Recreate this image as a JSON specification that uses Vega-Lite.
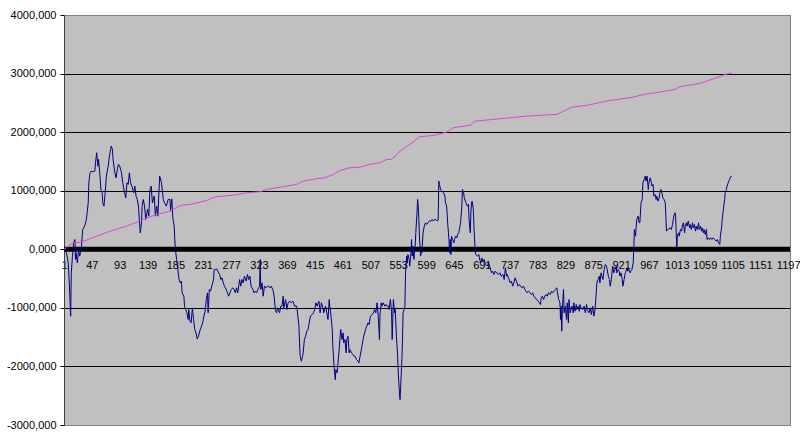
{
  "$schema": "https://vega.github.io/schema/vega-lite/v6.json",
  "width": 726,
  "height": 410,
  "autosize": {"type": "none"},
  "padding": {"left": 64, "top": 15, "right": 10, "bottom": 16},
  "background": "#ffffff",
  "config": {
    "view": {"fill": "#C0C0C0", "stroke": "#808080", "strokeWidth": 1},
    "font": "Liberation Sans"
  },
  "datasets": {
    "pnl": [
      {"step":1,"value":0},{"step":5,"value":-60},{"step":8,"value":-232},{"step":10,"value":-630},{"step":12,"value":-1143},{"step":13,"value":-402},{"step":15,"value":-117},{"step":17,"value":110},{"step":19,"value":167},{"step":20,"value":-174},{"step":21,"value":-60},{"step":23,"value":-232},{"step":25,"value":-3},{"step":27,"value":-117},{"step":30,"value":54},{"step":31,"value":224},{"step":32,"value":338},{"step":35,"value":395},{"step":38,"value":509},{"step":41,"value":794},{"step":42,"value":1135},{"step":44,"value":1306},{"step":46,"value":1335},{"step":49,"value":1323},{"step":52,"value":1335},{"step":53,"value":1477},{"step":55,"value":1648},{"step":57,"value":1420},{"step":58,"value":1534},{"step":60,"value":1306},{"step":62,"value":1021},{"step":64,"value":965},{"step":65,"value":794},{"step":67,"value":737},{"step":69,"value":965},{"step":71,"value":1249},{"step":74,"value":1420},{"step":76,"value":1591},{"step":79,"value":1762},{"step":81,"value":1705},{"step":82,"value":1534},{"step":85,"value":1306},{"step":87,"value":1221},{"step":89,"value":1363},{"step":91,"value":1449},{"step":93,"value":1420},{"step":96,"value":1306},{"step":98,"value":1135},{"step":101,"value":965},{"step":103,"value":879},{"step":105,"value":1135},{"step":107,"value":1107},{"step":109,"value":1306},{"step":111,"value":1135},{"step":113,"value":1078},{"step":116,"value":965},{"step":118,"value":1078},{"step":120,"value":908},{"step":122,"value":851},{"step":124,"value":737},{"step":125,"value":566},{"step":127,"value":281},{"step":129,"value":452},{"step":130,"value":737},{"step":132,"value":851},{"step":134,"value":737},{"step":136,"value":509},{"step":139,"value":680},{"step":141,"value":566},{"step":143,"value":1021},{"step":145,"value":1078},{"step":147,"value":794},{"step":150,"value":908},{"step":152,"value":566},{"step":154,"value":737},{"step":156,"value":566},{"step":159,"value":1249},{"step":162,"value":1135},{"step":165,"value":851},{"step":167,"value":794},{"step":170,"value":737},{"step":173,"value":851},{"step":176,"value":851},{"step":177,"value":652},{"step":179,"value":862},{"step":181,"value":509},{"step":183,"value":395},{"step":184,"value":167},{"step":185,"value":-3},{"step":187,"value":-174},{"step":189,"value":-345},{"step":191,"value":-516},{"step":193,"value":-573},{"step":195,"value":-544},{"step":196,"value":-744},{"step":199,"value":-801},{"step":200,"value":-971},{"step":202,"value":-1028},{"step":204,"value":-1085},{"step":206,"value":-1199},{"step":207,"value":-1028},{"step":209,"value":-1228},{"step":211,"value":-1256},{"step":213,"value":-1000},{"step":215,"value":-1199},{"step":217,"value":-1370},{"step":219,"value":-1427},{"step":221,"value":-1530},{"step":223,"value":-1484},{"step":226,"value":-1370},{"step":228,"value":-1313},{"step":230,"value":-1256},{"step":232,"value":-1142},{"step":234,"value":-1057},{"step":236,"value":-858},{"step":238,"value":-744},{"step":239,"value":-1085},{"step":241,"value":-687},{"step":243,"value":-715},{"step":245,"value":-630},{"step":248,"value":-516},{"step":249,"value":-345},{"step":251,"value":-345},{"step":253,"value":-334},{"step":255,"value":-374},{"step":258,"value":-430},{"step":260,"value":-516},{"step":262,"value":-487},{"step":264,"value":-573},{"step":266,"value":-630},{"step":269,"value":-687},{"step":271,"value":-744},{"step":273,"value":-801},{"step":275,"value":-744},{"step":277,"value":-687},{"step":280,"value":-658},{"step":282,"value":-687},{"step":284,"value":-744},{"step":286,"value":-658},{"step":288,"value":-744},{"step":291,"value":-516},{"step":293,"value":-630},{"step":295,"value":-516},{"step":297,"value":-573},{"step":299,"value":-459},{"step":302,"value":-544},{"step":304,"value":-430},{"step":306,"value":-516},{"step":308,"value":-459},{"step":310,"value":-630},{"step":313,"value":-687},{"step":315,"value":-744},{"step":317,"value":-715},{"step":319,"value":-744},{"step":321,"value":-687},{"step":324,"value":-630},{"step":325,"value":-174},{"step":326,"value":-687},{"step":328,"value":-573},{"step":330,"value":-801},{"step":332,"value":-630},{"step":335,"value":-658},{"step":337,"value":-630},{"step":339,"value":-630},{"step":341,"value":-658},{"step":343,"value":-630},{"step":346,"value":-687},{"step":348,"value":-801},{"step":350,"value":-1028},{"step":352,"value":-1085},{"step":354,"value":-1000},{"step":357,"value":-1085},{"step":359,"value":-971},{"step":361,"value":-971},{"step":363,"value":-801},{"step":364,"value":-1000},{"step":367,"value":-858},{"step":369,"value":-1028},{"step":371,"value":-914},{"step":374,"value":-886},{"step":376,"value":-914},{"step":379,"value":-886},{"step":382,"value":-971},{"step":385,"value":-971},{"step":386,"value":-1028},{"step":389,"value":-1313},{"step":390,"value":-1598},{"step":391,"value":-1826},{"step":393,"value":-1911},{"step":395,"value":-1826},{"step":396,"value":-1769},{"step":398,"value":-1541},{"step":400,"value":-1484},{"step":402,"value":-1399},{"step":404,"value":-1370},{"step":406,"value":-1256},{"step":408,"value":-1142},{"step":411,"value":-1114},{"step":413,"value":-1085},{"step":415,"value":-1028},{"step":417,"value":-914},{"step":419,"value":-971},{"step":422,"value":-886},{"step":424,"value":-1085},{"step":426,"value":-914},{"step":428,"value":-971},{"step":430,"value":-1085},{"step":433,"value":-971},{"step":435,"value":-1085},{"step":437,"value":-1199},{"step":439,"value":-858},{"step":440,"value":-971},{"step":442,"value":-1142},{"step":444,"value":-1370},{"step":445,"value":-1655},{"step":447,"value":-1997},{"step":449,"value":-2225},{"step":450,"value":-2054},{"step":452,"value":-2111},{"step":453,"value":-1997},{"step":455,"value":-1769},{"step":457,"value":-1484},{"step":458,"value":-1370},{"step":460,"value":-1541},{"step":462,"value":-1427},{"step":463,"value":-1598},{"step":465,"value":-1541},{"step":467,"value":-1769},{"step":468,"value":-1541},{"step":470,"value":-1484},{"step":472,"value":-1769},{"step":473,"value":-1712},{"step":476,"value":-1769},{"step":478,"value":-1797},{"step":480,"value":-1826},{"step":482,"value":-1826},{"step":484,"value":-1883},{"step":487,"value":-1911},{"step":488,"value":-1940},{"step":490,"value":-1826},{"step":492,"value":-1712},{"step":493,"value":-1655},{"step":495,"value":-1541},{"step":496,"value":-1484},{"step":499,"value":-1370},{"step":501,"value":-1313},{"step":503,"value":-1256},{"step":505,"value":-1285},{"step":507,"value":-1142},{"step":510,"value":-1114},{"step":512,"value":-1085},{"step":514,"value":-1028},{"step":516,"value":-1085},{"step":518,"value":-914},{"step":520,"value":-1142},{"step":522,"value":-1541},{"step":523,"value":-1085},{"step":525,"value":-914},{"step":526,"value":-971},{"step":528,"value":-914},{"step":531,"value":-971},{"step":533,"value":-943},{"step":535,"value":-971},{"step":537,"value":-971},{"step":538,"value":-1028},{"step":540,"value":-858},{"step":542,"value":-1057},{"step":543,"value":-1541},{"step":545,"value":-858},{"step":547,"value":-1085},{"step":548,"value":-1028},{"step":550,"value":-1484},{"step":552,"value":-1826},{"step":553,"value":-2111},{"step":555,"value":-2452},{"step":556,"value":-2566},{"step":557,"value":-2338},{"step":558,"value":-2111},{"step":559,"value":-1883},{"step":560,"value":-1541},{"step":561,"value":-1085},{"step":563,"value":-1028},{"step":564,"value":-971},{"step":565,"value":-402},{"step":566,"value":-231},{"step":567,"value":-117},{"step":568,"value":-231},{"step":569,"value":-89},{"step":571,"value":-174},{"step":572,"value":-288},{"step":574,"value":-60},{"step":575,"value":167},{"step":576,"value":-117},{"step":577,"value":54},{"step":579,"value":-174},{"step":580,"value":-3},{"step":581,"value":54},{"step":582,"value":281},{"step":584,"value":623},{"step":585,"value":851},{"step":586,"value":737},{"step":587,"value":509},{"step":588,"value":224},{"step":590,"value":-117},{"step":591,"value":-3},{"step":592,"value":-60},{"step":593,"value":110},{"step":594,"value":281},{"step":596,"value":395},{"step":598,"value":452},{"step":600,"value":424},{"step":602,"value":452},{"step":604,"value":481},{"step":607,"value":481},{"step":609,"value":509},{"step":611,"value":481},{"step":613,"value":509},{"step":615,"value":509},{"step":618,"value":481},{"step":619,"value":509},{"step":620,"value":1164},{"step":621,"value":1107},{"step":623,"value":1021},{"step":625,"value":993},{"step":628,"value":965},{"step":630,"value":908},{"step":631,"value":794},{"step":633,"value":737},{"step":635,"value":395},{"step":636,"value":281},{"step":638,"value":-60},{"step":639,"value":167},{"step":640,"value":-89},{"step":641,"value":224},{"step":643,"value":167},{"step":645,"value":110},{"step":646,"value":167},{"step":648,"value":224},{"step":650,"value":196},{"step":651,"value":253},{"step":653,"value":281},{"step":654,"value":338},{"step":656,"value":452},{"step":658,"value":737},{"step":659,"value":1021},{"step":661,"value":965},{"step":662,"value":879},{"step":664,"value":822},{"step":665,"value":794},{"step":667,"value":737},{"step":669,"value":765},{"step":670,"value":509},{"step":672,"value":281},{"step":673,"value":623},{"step":674,"value":794},{"step":675,"value":822},{"step":677,"value":680},{"step":678,"value":395},{"step":680,"value":-3},{"step":681,"value":-89},{"step":684,"value":-117},{"step":686,"value":-89},{"step":687,"value":-146},{"step":689,"value":-231},{"step":691,"value":-146},{"step":693,"value":-203},{"step":695,"value":-174},{"step":697,"value":-260},{"step":700,"value":-288},{"step":702,"value":-231},{"step":704,"value":-288},{"step":707,"value":-402},{"step":709,"value":-374},{"step":711,"value":-430},{"step":713,"value":-374},{"step":716,"value":-402},{"step":718,"value":-430},{"step":721,"value":-402},{"step":723,"value":-459},{"step":726,"value":-430},{"step":728,"value":-516},{"step":730,"value":-316},{"step":732,"value":-459},{"step":733,"value":-430},{"step":735,"value":-487},{"step":738,"value":-573},{"step":740,"value":-544},{"step":742,"value":-630},{"step":744,"value":-573},{"step":746,"value":-487},{"step":749,"value":-573},{"step":751,"value":-630},{"step":753,"value":-601},{"step":755,"value":-630},{"step":757,"value":-658},{"step":760,"value":-630},{"step":762,"value":-687},{"step":764,"value":-715},{"step":766,"value":-744},{"step":768,"value":-715},{"step":771,"value":-744},{"step":773,"value":-772},{"step":775,"value":-744},{"step":777,"value":-801},{"step":779,"value":-829},{"step":782,"value":-858},{"step":784,"value":-886},{"step":786,"value":-914},{"step":788,"value":-943},{"step":789,"value":-829},{"step":791,"value":-801},{"step":793,"value":-858},{"step":795,"value":-801},{"step":797,"value":-772},{"step":799,"value":-801},{"step":801,"value":-744},{"step":804,"value":-772},{"step":806,"value":-715},{"step":808,"value":-744},{"step":810,"value":-715},{"step":812,"value":-687},{"step":815,"value":-658},{"step":816,"value":-744},{"step":818,"value":-858},{"step":820,"value":-914},{"step":821,"value":-1199},{"step":822,"value":-971},{"step":823,"value":-1399},{"step":824,"value":-1028},{"step":825,"value":-858},{"step":826,"value":-687},{"step":827,"value":-1085},{"step":829,"value":-971},{"step":831,"value":-1199},{"step":832,"value":-914},{"step":834,"value":-1256},{"step":835,"value":-858},{"step":837,"value":-1085},{"step":838,"value":-1028},{"step":840,"value":-971},{"step":842,"value":-1085},{"step":843,"value":-914},{"step":845,"value":-1057},{"step":847,"value":-943},{"step":848,"value":-1028},{"step":850,"value":-971},{"step":852,"value":-1057},{"step":853,"value":-943},{"step":855,"value":-1000},{"step":858,"value":-1028},{"step":860,"value":-971},{"step":862,"value":-1085},{"step":864,"value":-943},{"step":865,"value":-1028},{"step":868,"value":-1085},{"step":870,"value":-1000},{"step":872,"value":-1114},{"step":874,"value":-971},{"step":876,"value":-1142},{"step":878,"value":-1028},{"step":880,"value":-744},{"step":881,"value":-573},{"step":883,"value":-516},{"step":885,"value":-459},{"step":886,"value":-573},{"step":888,"value":-402},{"step":891,"value":-516},{"step":893,"value":-345},{"step":895,"value":-260},{"step":897,"value":-288},{"step":898,"value":-345},{"step":900,"value":-459},{"step":902,"value":-516},{"step":903,"value":-630},{"step":905,"value":-516},{"step":907,"value":-288},{"step":909,"value":-402},{"step":910,"value":-374},{"step":913,"value":-288},{"step":914,"value":-402},{"step":916,"value":-345},{"step":918,"value":-374},{"step":919,"value":-459},{"step":921,"value":-402},{"step":923,"value":-516},{"step":924,"value":-630},{"step":926,"value":-516},{"step":928,"value":-402},{"step":929,"value":-374},{"step":931,"value":-316},{"step":932,"value":-374},{"step":934,"value":-345},{"step":936,"value":-402},{"step":937,"value":-374},{"step":939,"value":-345},{"step":941,"value":-231},{"step":942,"value":-3},{"step":943,"value":338},{"step":945,"value":224},{"step":946,"value":395},{"step":947,"value":509},{"step":949,"value":566},{"step":951,"value":452},{"step":952,"value":452},{"step":954,"value":794},{"step":956,"value":851},{"step":957,"value":1135},{"step":959,"value":1192},{"step":961,"value":1249},{"step":962,"value":1164},{"step":964,"value":1249},{"step":966,"value":1021},{"step":967,"value":1135},{"step":969,"value":1221},{"step":970,"value":1192},{"step":972,"value":1078},{"step":974,"value":1107},{"step":975,"value":908},{"step":977,"value":936},{"step":979,"value":851},{"step":980,"value":908},{"step":982,"value":822},{"step":984,"value":879},{"step":985,"value":965},{"step":987,"value":1021},{"step":989,"value":936},{"step":990,"value":879},{"step":992,"value":851},{"step":994,"value":794},{"step":995,"value":566},{"step":996,"value":310},{"step":998,"value":338},{"step":1000,"value":350},{"step":1002,"value":367},{"step":1004,"value":338},{"step":1006,"value":424},{"step":1008,"value":566},{"step":1010,"value":623},{"step":1011,"value":595},{"step":1013,"value":25},{"step":1014,"value":224},{"step":1016,"value":281},{"step":1017,"value":224},{"step":1019,"value":338},{"step":1021,"value":310},{"step":1022,"value":395},{"step":1024,"value":452},{"step":1026,"value":281},{"step":1027,"value":395},{"step":1029,"value":452},{"step":1030,"value":395},{"step":1032,"value":481},{"step":1034,"value":367},{"step":1035,"value":424},{"step":1037,"value":338},{"step":1039,"value":452},{"step":1040,"value":367},{"step":1042,"value":424},{"step":1044,"value":310},{"step":1045,"value":395},{"step":1047,"value":338},{"step":1049,"value":452},{"step":1050,"value":338},{"step":1052,"value":395},{"step":1054,"value":310},{"step":1055,"value":367},{"step":1057,"value":281},{"step":1058,"value":338},{"step":1060,"value":253},{"step":1062,"value":338},{"step":1063,"value":167},{"step":1065,"value":196},{"step":1067,"value":167},{"step":1069,"value":196},{"step":1071,"value":167},{"step":1073,"value":196},{"step":1076,"value":167},{"step":1078,"value":139},{"step":1080,"value":167},{"step":1082,"value":110},{"step":1084,"value":82},{"step":1085,"value":224},{"step":1087,"value":367},{"step":1088,"value":509},{"step":1090,"value":680},{"step":1092,"value":851},{"step":1093,"value":965},{"step":1095,"value":1021},{"step":1096,"value":1078},{"step":1098,"value":1135},{"step":1100,"value":1192},{"step":1102,"value":1238},{"step":1104,"value":1249}
    ],
    "cum": [
      {"step":1,"value":0},{"step":5,"value":26},{"step":14,"value":99},{"step":27,"value":121},{"step":38,"value":155},{"step":55,"value":224},{"step":77,"value":309},{"step":104,"value":395},{"step":126,"value":480},{"step":132,"value":512},{"step":154,"value":594},{"step":176,"value":651},{"step":187,"value":709},{"step":195,"value":753},{"step":209,"value":765},{"step":226,"value":805},{"step":237,"value":834},{"step":242,"value":863},{"step":253,"value":897},{"step":281,"value":924},{"step":303,"value":965},{"step":325,"value":982},{"step":336,"value":1022},{"step":363,"value":1068},{"step":385,"value":1107},{"step":396,"value":1163},{"step":418,"value":1204},{"step":432,"value":1221},{"step":446,"value":1278},{"step":457,"value":1346},{"step":473,"value":1392},{"step":490,"value":1402},{"step":506,"value":1449},{"step":523,"value":1478},{"step":534,"value":1534},{"step":542,"value":1534},{"step":556,"value":1676},{"step":572,"value":1790},{"step":589,"value":1922},{"step":611,"value":1944},{"step":633,"value":2000},{"step":644,"value":2075},{"step":672,"value":2120},{"step":680,"value":2188},{"step":721,"value":2229},{"step":765,"value":2274},{"step":815,"value":2303},{"step":826,"value":2359},{"step":840,"value":2427},{"step":864,"value":2456},{"step":897,"value":2530},{"step":941,"value":2598},{"step":958,"value":2644},{"step":985,"value":2684},{"step":1010,"value":2730},{"step":1018,"value":2776},{"step":1051,"value":2832},{"step":1062,"value":2871},{"step":1079,"value":2929},{"step":1093,"value":2986},{"step":1104,"value":3015}
    ]
  },
  "encoding": {
    "x": {
      "field": "step",
      "type": "quantitative",
      "scale": {"domain": [1, 1200], "nice": false, "zero": false},
      "axis": {
        "title": null,
        "orient": "bottom",
        "offset": -175.7,
        "domain": false,
        "ticks": false,
        "grid": false,
        "format": "d",
        "values": [1,47,93,139,185,231,277,323,369,415,461,507,553,599,645,691,737,783,829,875,921,967,1013,1059,1105,1151,1197],
        "labelFontSize": 11,
        "labelColor": "#000000",
        "labelPadding": 10,
        "labelOverlap": false,
        "labelFlush": false,
        "labelBound": false
      }
    },
    "y": {
      "field": "value",
      "type": "quantitative",
      "scale": {"domain": [-3000, 4000], "nice": false, "zero": false},
      "axis": {
        "title": null,
        "values": [-3000,-2000,-1000,0,1000,2000,3000,4000],
        "labelExpr": "(datum.value < 0 ? '-' : '') + replace(format(abs(datum.value), '.3f'), '.', ',')",
        "labelFontSize": 11,
        "labelColor": "#000000",
        "labelPadding": 4,
        "tickSize": 4,
        "tickColor": "#000000",
        "domainColor": "#404040",
        "grid": true,
        "gridColor": {"condition": {"test": "datum.value == 4000 || datum.value == -3000", "value": "#808080"}, "value": "#000000"},
        "gridWidth": 1,
        "gridOpacity": 1
      }
    }
  },
  "layer": [
    {
      "data": {"values": [{"level": 0}]},
      "mark": {"type": "rule", "color": "#000000", "strokeWidth": 5},
      "encoding": {"y": {"field": "level", "type": "quantitative"}, "x": null}
    },
    {
      "data": {"name": "pnl"},
      "mark": {"type": "line", "color": "#000080", "strokeWidth": 1}
    },
    {
      "data": {"name": "cum"},
      "mark": {"type": "line", "color": "#D848D8", "strokeWidth": 1}
    }
  ]
}
